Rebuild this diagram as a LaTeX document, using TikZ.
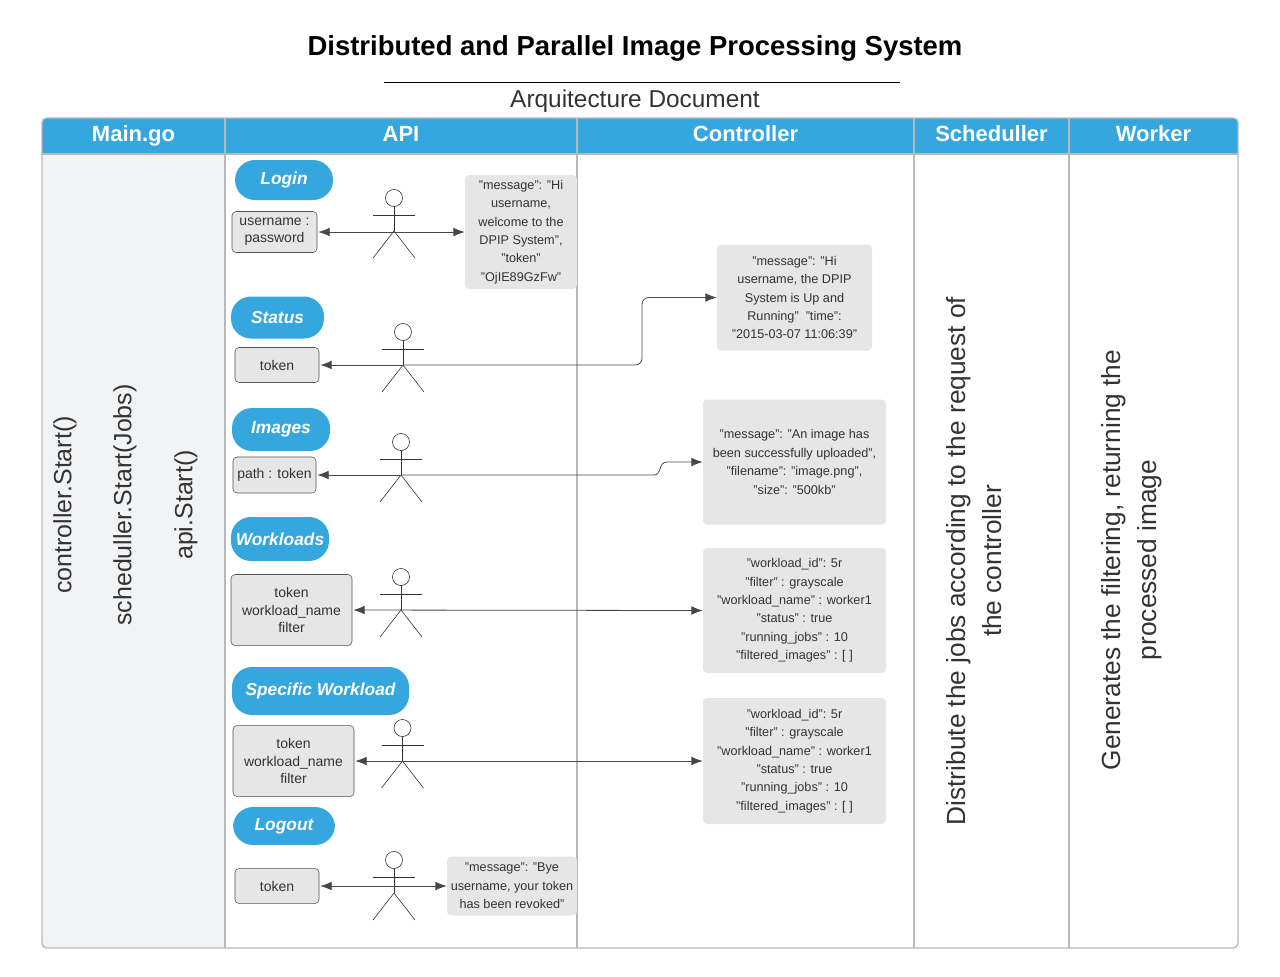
\documentclass[tikz,border=0pt]{standalone}
\usepackage{fontspec}
\setmainfont{Liberation Sans}
\usetikzlibrary{arrows.meta}
\definecolor{lanehead}{HTML}{36A6DF}
\definecolor{laneline}{HTML}{B6B8BA}
\definecolor{laneback}{HTML}{F2F3F5}
\definecolor{boxfill}{HTML}{E6E6E6}
\definecolor{inkgray}{HTML}{333333}

\begin{document}
\begin{tikzpicture}[x=0.75pt, y=-0.75pt, >={Latex[length=8.5pt,width=6.5pt]}]
\tikzstyle{lanetitle}=[white, anchor=base, font=\fontsize{16.5}{20}\selectfont\bfseries]
\tikzstyle{maintext}=[rotate=90, inkgray, font=\fontsize{18.7}{27}\selectfont]
\tikzstyle{lanetext}=[rotate=90, inkgray, align=center, font=\fontsize{19.7}{27}\selectfont]
\tikzstyle{pill}=[rounded corners=15pt, fill=lanehead, text=white, inner sep=0pt, font=\fontsize{13}{16}\selectfont\bfseries\itshape]
\tikzstyle{inbox}=[draw=inkgray!85, rounded corners=3pt, fill=boxfill, inner sep=0pt, outer sep=1pt, align=center, text=inkgray, font=\fontsize{10.5}{12.8}\selectfont]
\tikzstyle{msgbox}=[rounded corners=3pt, fill=boxfill, inner sep=0pt, align=center, text=inkgray, font=\fontsize{9.5}{13.8}\selectfont]
\tikzstyle{head}=[circle, draw=inkgray, fill=white, inner sep=0pt, minimum size=12.8pt, line width=0.45pt]
\tikzstyle{limb}=[draw=inkgray, line width=0.45pt]
\tikzstyle{link}=[draw=inkgray!90, line width=0.6pt, rounded corners=5pt]
\useasboundingbox (0,0) rectangle (1280,976);

% Title
\node (title) at (635,48) [font=\fontsize{20.6}{25}\selectfont\bfseries] {Distributed and Parallel Image Processing System};
\node (subtitle) at (635,101) [inkgray, font=\fontsize{18.3}{22}\selectfont] {Arquitecture Document};
\draw [line width=0.7pt] (384,82) -- (900,82);

% Lanes
\fill [laneback] (42,154) rectangle (225,948);
\fill [lanehead] (42,154) [rounded corners=3.5pt] -- (42,118) -- (1238,118) [sharp corners] -- (1238,154) -- cycle;
\draw [laneline, line width=1pt, rounded corners=3.5pt] (42,118) rectangle (1238,948);
\draw [laneline, line width=1pt] (42,154) -- (1238,154);
\foreach \x in {225,577,914,1069}
\draw [laneline, line width=1pt] (\x,118) -- (\x,948);

\foreach \n/\x/\t in {main/133.5/Main.go, api/401/API, ctrl/745.5/Controller, sched/991.5/Scheduller, work/1153.5/Worker}
\node at (\x,141) [lanetitle] (\n_title) {\t};

\node at (65,505) [maintext] (main_a) {controller.Start()};
\node at (125,505) [maintext] (main_b) {scheduller.Start(Jobs)};
\node at (186,505) [maintext] (main_c) {api.Start()};
\node at (974,561) [lanetext] (sched_text) {Distribute the jobs according to the request of\\the controller};
\node at (1131.5,560) [lanetext] (work_text) {Generates the filtering, returning the\\processed image};

% Endpoints
\foreach \n/\x/\y/\w/\h/\t in {login/284/180/98/40/Login, status/277.5/317.5/93/42/Status, images/281/429.5/98/43/Images, workloads/280/539/98/44/Workloads, specific/320.5/691/177/48/Specific Workload, logout/284/826/102/38/Logout}
\node at (\x,\y) [pill, minimum width=\w*0.75pt, minimum height=\h*0.75pt] (\n_pill) {\t};

% Inputs
\foreach \n/\x/\y/\w/\h/\t in {login/274.5/232/85/41/{username :\\password}, status/277/365/84/35/token, images/274.5/475/83/36/path : token, workloads/291.5/610/121/71/{token\\workload\_name\\filter}, specific/293.5/761/121/71/{token\\workload\_name\\filter}, logout/277/886/84/35/token}
\node at (\x,\y) [inbox, minimum width=\w*0.75pt, minimum height=\h*0.75pt] (\n_in) {\t};

% Answers
\foreach \n/\x/\y/\w/\h/\t in {login/521/232/112/114/{"message": "Hi\\username,\\welcome to the\\DPIP System",\\"token"\\"OjIE89GzFw"}, status/794.5/297.5/155/106/{"message": "Hi\\username, the DPIP\\System is Up and\\Running"~~"time":\\"2015-03-07 11:06:39"}, images/794.5/462/183/125/{"message": "An image has\\been successfully uploaded",\\"filename": "image.png",\\"size": "500kb"}, workloads/794.5/610.5/183/125/{"workload\_id": 5r\\"filter" : grayscale\\"workload\_name" : worker1\\"status" : true\\"running\_jobs" : 10\\"filtered\_images" : [ ]}, specific/794.5/761/183/126/{"workload\_id": 5r\\"filter" : grayscale\\"workload\_name" : worker1\\"status" : true\\"running\_jobs" : 10\\"filtered\_images" : [ ]}, logout/512/886/130/59/{"message": "Bye\\username, your token\\has been revoked"}}
\node at (\x,\y) [msgbox, minimum width=\w*0.75pt, minimum height=\h*0.75pt] (\n_msg) {\t};

% Actors
\foreach \n/\x/\y in {login/394/198, status/403/332, images/401/442, workloads/401/577, specific/402.5/728, logout/394/860}{
\node at (\x,\y) [head] (\n_head) {};
\coordinate (\n_hip) at (\x,\y+33);
\draw [limb] (\n_head) -- (\n_hip);
\draw [limb] (\x-21,\y+17) -- (\x+21,\y+17);
\draw [limb] (\x-21,\y+60) -- (\n_hip) -- (\x+21,\y+60);
}

% Connectors
\draw [link, <->] (login_in.east) -- (login_msg.west);
\draw [link, ->] (status_hip) -- (status_in.east);
\coordinate (status_turn) at (642,330);
\draw [link, ->] (status_hip) -| (status_turn) |- (status_msg.west);
\draw [link, ->] (images_hip) -- (images_in.east);
\coordinate (images_a) at (654,475);
\coordinate (images_b) at (667,462);
\draw [draw=inkgray!90, line width=0.6pt, ->] (images_hip) -- (images_a) .. controls (662,475) and (658,462) .. (images_b) -- (images_msg.west);
\draw [link, <->] (workloads_in.east) -- (workloads_msg.west);
\draw [link, <->] (specific_in.east) -- (specific_msg.west);
\draw [link, <->] (logout_in.east) -- (logout_msg.west);
\end{tikzpicture}
\end{document}
